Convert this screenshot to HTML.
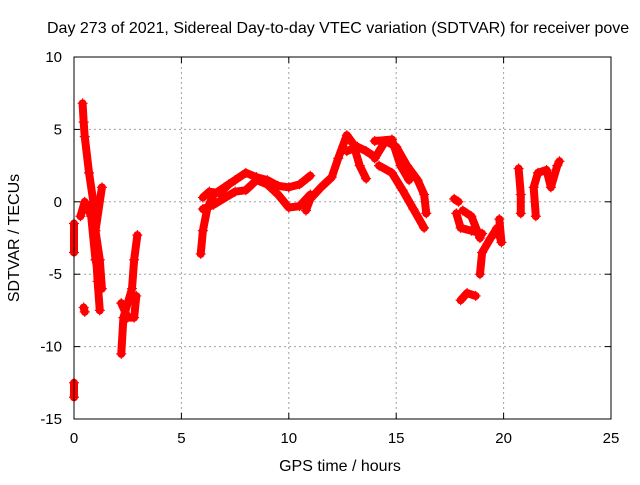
<!DOCTYPE html>
<html><head><meta charset="utf-8"><style>
body{margin:0;background:#fff}
svg text{font-family:"Liberation Sans",sans-serif;font-size:15px;fill:#000}
svg text.big{font-size:16px}
</style></head><body>
<svg id="c" width="640" height="480">
<text class="big" x="47" y="33">Day 273 of 2021, Sidereal Day-to-day VTEC variation (SDTVAR) for receiver pove</text>
<text class="big" x="340" y="471" text-anchor="middle">GPS time / hours</text>
<text class="big" transform="translate(19,238) rotate(-90)" text-anchor="middle">SDTVAR / TECUs</text>
<g id="grid"></g><g id="marks"></g><g id="axes"></g>
</svg>
<script>
const xTicks=[0,5,10,15,20,25];
const yTicks=[10,5,0,-5,-10,-15];
const tA=[[0.4,6.8],[0.45,5.5],[0.5,4.5],[0.7,2],[0.9,0],[1.0,-3],[1.1,-5.5],[1.2,-7.5]];
const tA2=[[0.3,-1],[0.5,0],[0.8,-1],[1.0,-4],[1.3,-6],[1.2,-4],[1.0,-2],[1.3,1]];
const tA3=[[0,-1.5],[0,-3.5]];
const tA4=[[0,-12.5],[0,-13.5]];
const tA5=[[0.45,-7.3],[0.5,-7.6]];
const tB=[[2.2,-10.5],[2.3,-8],[2.5,-7],[2.7,-6],[2.8,-4],[2.95,-2.3]];
const tB2=[[2.2,-7],[2.5,-8],[2.8,-8],[2.9,-6.5]];
const tC=[[5.9,-3.6],[6.0,-2],[6.2,-0.5],[6.5,0.5],[7,1],[7.5,1.5],[8,2],[8.5,1.7],[9,1.5],[9.5,1.1],[10,1],[10.5,1.2],[11,1.8]];
const tC2=[[6,-0.5],[6.5,-0.2],[7.5,0.7],[8,0.8],[8.5,1.5],[9,1.2],[9.5,0.5],[10,-0.4],[10.5,-0.3],[11,0.5]];
const tC3=[[6,0.3],[6.3,0.7],[6.8,0.6],[7.2,1.2]];
const tD=[[10.8,-0.6],[11,0.2],[11.5,1],[12,1.7],[12.3,3],[12.7,4.6],[13,4],[13.3,2.5],[13.6,1.6]];
const tD2=[[12.7,3.5],[13.2,3.8],[13.6,3.5],[13.9,3.2]];
const tE=[[14.0,3.0],[14.5,4.2],[15,3.8],[15.5,2.5],[16,1.5],[16.3,0.5],[16.4,-0.8]];
const tE2=[[14.2,2.5],[14.8,2],[15.3,0.8],[15.8,-0.5],[16.3,-1.8]];
const tE3=[[14.0,4.2],[14.8,4.3],[15.2,2.5],[15.6,1.5]];
const tF=[[17.7,0.2],[17.9,0]];
const tG=[[17.8,-0.8],[18,-1.8],[18.5,-2],[19,-2.2]];
const tG2=[[18.1,-0.6],[18.5,-1],[18.9,-2.5]];
const tH=[[18.9,-5],[19,-3.5],[19.4,-2.5],[19.7,-1.8],[19.9,-2.8],[19.8,-1.2]];
const tI=[[18,-6.8],[18.3,-6.3],[18.7,-6.5]];
const tJ=[[20.7,2.3],[20.8,0.5],[20.8,-0.8]];
const tK=[[21.5,-1],[21.4,1],[21.6,2],[22,2.2],[22.2,1],[22.5,2.5],[22.6,2.8]];
const series=[tA,tA2,tA3,tA4,tA5,tB,tB2,tC,tC2,tC3,tD,tD2,tE,tE2,tE3,tF,tG,tG2,tH,tI,tJ,tK];
const X0=74,X1=611,Y0=57,Y1=419;
const xs=v=>X0+(v-0)/25*(X1-X0);
const ys=v=>Y0+(10-v)/25*(Y1-Y0);
const NS='http://www.w3.org/2000/svg';
function mk(t,a,p){const e=document.createElementNS(NS,t);for(const k in a)e.setAttribute(k,a[k]);p.appendChild(e);return e;}
const grid=document.getElementById('grid'),marks=document.getElementById('marks'),axes=document.getElementById('axes');
xTicks.forEach(v=>{
 if(v>0&&v<25){const l=mk('line',{x1:xs(v),x2:xs(v),y1:Y0,y2:Y1,stroke:'#a0a0a0','stroke-dasharray':'2,3'},grid);
 
 }
 mk('line',{x1:xs(v),x2:xs(v),y1:Y1,y2:Y1-6,stroke:'#000'},axes);
 mk('line',{x1:xs(v),x2:xs(v),y1:Y0,y2:Y0+6,stroke:'#000'},axes);
 const t=mk('text',{x:xs(v),y:Y1+24,'text-anchor':'middle'},axes);t.textContent=v;
 
 
});
yTicks.forEach(v=>{
 if(v>-15&&v<10){const l=mk('line',{x1:X0,x2:X1,y1:ys(v),y2:ys(v),stroke:'#a0a0a0','stroke-dasharray':'2,3'},grid);
 
 }
 mk('line',{x1:X0,x2:X0+6,y1:ys(v),y2:ys(v),stroke:'#000'},axes);
 mk('line',{x1:X1,x2:X1-6,y1:ys(v),y2:ys(v),stroke:'#000'},axes);
 const t=mk('text',{x:X0-12,y:ys(v)+5,'text-anchor':'end'},axes);t.textContent=v;
 
 
});
const fr=mk('rect',{x:X0,y:Y0,width:X1-X0,height:Y1-Y0,fill:'none',stroke:'#000'},axes);


series.forEach(s=>{
 const pl=mk('polyline',{points:s.map(p=>xs(p[0])+','+ys(p[1])).join(' '),fill:'none',stroke:'#f00','stroke-width':8,'stroke-linejoin':'round','stroke-linecap':'round'},marks);
 
 
 s.forEach(p=>{const x=xs(p[0]),y=ys(p[1]);
  const m=mk('path',{d:`M${x-5},${y}H${x+5}M${x},${y-5}V${y+5}`,stroke:'#f00','stroke-width':1.2},marks);
  
  });
});
</script>
</body></html>
